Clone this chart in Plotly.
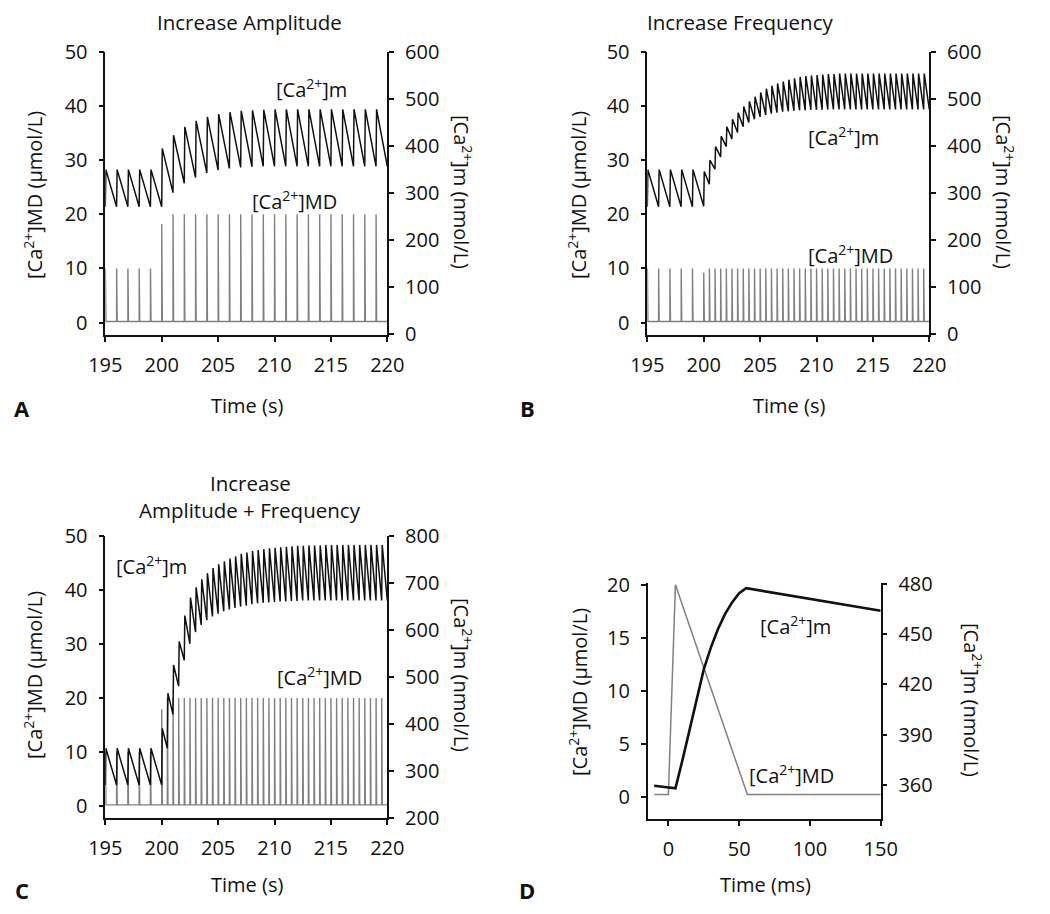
import plotly.graph_objects as go

# The page body has an 8 px margin, so the figure is drawn 8 px smaller and
# every reference pixel position is shifted by OFF.
OFF = 8
W, H = 1050 - OFF, 914 - OFF
FONT = "Open Sans"
BLACK = "#111111"
GRAY = "#808080"

# ---------------- data ----------------
# Panel A: increase amplitude (spikes every 1 s)
A_spike_t = [195, 196, 197, 198, 199, 200, 201, 202, 203, 204, 205, 206, 207, 208, 209,
             210, 211, 212, 213, 214, 215, 216, 217, 218, 219]
A_md_amp = [10, 10, 10, 10, 10, 18.2, 20, 20, 20, 20, 20, 20, 20, 20, 20,
            20, 20, 20, 20, 20, 20, 20, 20, 20, 20]
A_m_trough = [270, 270, 270, 270, 270, 270, 300, 320, 332, 342, 348, 351.5, 353.6, 355, 356,
              356, 356, 356, 356, 356, 356, 356, 356, 356, 356]
A_m_peak = [349, 349, 349, 349, 349, 394, 422, 440, 452.6, 461, 467, 471, 474, 475, 476,
            477, 477, 477, 477, 477, 477, 477, 477, 477, 477]
A_m_end = 356

# Panel B: increase frequency (spikes every 0.5 s after 200 s)
B_spike_t = [195, 196, 197, 198, 199,
             200, 200.5, 201, 201.5, 202, 202.5, 203, 203.5, 204, 204.5,
             205, 205.5, 206, 206.5, 207, 207.5, 208, 208.5, 209, 209.5,
             210, 210.5, 211, 211.5, 212, 212.5, 213, 213.5, 214, 214.5,
             215, 215.5, 216, 216.5, 217, 217.5, 218, 218.5, 219, 219.5]
B_md_amp = [10, 10, 10, 10, 10,
            9.2, 10, 10, 10, 10, 10, 10, 10, 10, 10,
            10, 10, 10, 10, 10, 10, 10, 10, 10, 10,
            10, 10, 10, 10, 10, 10, 10, 10, 10, 10,
            10, 10, 10, 10, 10, 10, 10, 10, 10, 10]
B_m_trough = [270, 270, 270, 270, 270,
              271, 318, 350, 376, 398, 414, 428, 440, 449, 456,
              461, 465, 468, 470, 472, 473, 474, 475, 475, 476,
              476, 476, 477, 477, 477, 477, 477, 477, 477, 477,
              477, 477, 477, 477, 477, 477, 477, 477, 477, 477]
B_m_peak = [349, 349, 349, 349, 349,
            345, 369, 398, 420, 440, 456, 470, 483, 494, 504,
            513, 521, 527, 532, 536, 540, 543, 546, 548, 549,
            550, 551, 552, 552, 553, 553, 553, 553, 553, 553,
            553, 553, 553, 553, 553, 553, 553, 553, 553, 553]
B_m_end = 477

# Panel C: increase amplitude + frequency
C_spike_t = list(B_spike_t)
C_md_amp = [10, 10, 10, 10, 10,
            17.9, 20, 20, 20, 20, 20, 20, 20, 20, 20,
            20, 20, 20, 20, 20, 20, 20, 20, 20, 20,
            20, 20, 20, 20, 20, 20, 20, 20, 20, 20,
            20, 20, 20, 20, 20, 20, 20, 20, 20, 20]
C_m_trough = [270, 270, 270, 270, 270,
              270, 348, 420, 480, 535, 570, 595, 610, 620, 628,
              634, 639, 643, 646, 649, 651, 654, 656, 657, 658,
              659, 660, 660, 661, 661, 662, 662, 662, 662, 662,
              662, 662, 662, 662, 662, 662, 662, 662, 662, 662]
C_m_peak = [348, 348, 348, 348, 348,
            390, 465, 525, 575, 630, 668, 690, 707, 720, 731,
            739, 745, 751, 756, 761, 764, 767, 769, 771, 773,
            774, 775, 776, 777, 778, 778, 779, 779, 779, 780,
            780, 780, 780, 780, 780, 780, 780, 780, 780, 780]
C_m_end = 662

MD_BASE = 0.2

# Panel D: single spike (ms)
D_md_t = [-10, 0, 5, 55.8, 150]
D_md = [0.2, 0.2, 20, 0.2, 0.2]
D_m_t = [-10, 5, 10, 15, 20, 25, 30, 35, 40, 45, 50, 55, 150]
D_m = [359.5, 358, 375, 393, 411, 429, 442, 453, 462, 469, 474.5, 477.5, 464]

# ---------------- helpers ----------------
def fx(px):
    return (px - OFF) / W

def fy(py):
    return 1 - (py - OFF) / H


def md_xy(ts, amps, t0, t1):
    xs, ys = [t0], [MD_BASE]
    for t, a in zip(ts, amps):
        xs += [t, t + 0.005, t + 0.055]
        ys += [MD_BASE, a, MD_BASE]
    xs.append(t1)
    ys.append(MD_BASE)
    return xs, ys


def m_xy(ts, troughs, peaks, t1, end):
    xs, ys = [], []
    for t, tr, pk in zip(ts, troughs, peaks):
        xs += [t, t + 0.05]
        ys += [tr, pk]
    xs.append(t1)
    ys.append(end)
    return xs, ys


fig = go.Figure()

panels = [
    ("A", "x", "y", "y2", A_spike_t, A_md_amp, A_m_trough, A_m_peak, A_m_end),
    ("B", "x2", "y3", "y4", B_spike_t, B_md_amp, B_m_trough, B_m_peak, B_m_end),
    ("C", "x3", "y5", "y6", C_spike_t, C_md_amp, C_m_trough, C_m_peak, C_m_end),
]
for name, xa, yl, yr, ts, amps, trs, pks, end in panels:
    mx, my = md_xy(ts, amps, 195, 220)
    fig.add_trace(go.Scatter(x=mx, y=my, mode="lines", xaxis=xa, yaxis=yl,
                             line=dict(color=GRAY, width=1.4), showlegend=False,
                             hoverinfo="skip"))
    cx, cy = m_xy(ts, trs, pks, 220, end)
    fig.add_trace(go.Scatter(x=cx, y=cy, mode="lines", xaxis=xa, yaxis=yr,
                             line=dict(color=BLACK, width=1.5), showlegend=False,
                             hoverinfo="skip"))

fig.add_trace(go.Scatter(x=D_md_t, y=D_md, mode="lines", xaxis="x4", yaxis="y7",
                         line=dict(color=GRAY, width=1.5), showlegend=False))
fig.add_trace(go.Scatter(x=D_m_t, y=D_m, mode="lines", xaxis="x4", yaxis="y8",
                         line=dict(color=BLACK, width=2.6), showlegend=False))

tickfont = dict(family=FONT, size=20, color=BLACK)
common = dict(showline=True, linecolor=BLACK, linewidth=1.5, ticks="outside",
              ticklen=5, tickwidth=1.5, tickcolor=BLACK, showgrid=False,
              zeroline=False, tickfont=tickfont, automargin=False)

# pixel geometry (reference pixels)
AB_top, AB_bot = 51.5, 335
C_top, C_bot = 535.5, 818
D_top, D_bot = 583.3, 819

XT = 6   # x tick label standoff
YT = 7   # y tick label standoff

layout = dict(
    width=W, height=H, plot_bgcolor="white", paper_bgcolor="white",
    margin=dict(l=0, r=0, t=0, b=0, pad=0), showlegend=False,
    font=dict(family=FONT, color=BLACK),
    xaxis=dict(domain=[fx(105.3), fx(387.3)], anchor="y", range=[195, 220],
               tickvals=[195, 200, 205, 210, 215, 220], ticklabelstandoff=XT, **common),
    yaxis=dict(domain=[fy(AB_bot), fy(AB_top)], anchor="x", range=[-2.3, 50.1],
               tickvals=[0, 10, 20, 30, 40, 50], ticklabelstandoff=YT, **common),
    yaxis2=dict(overlaying="y", anchor="x", side="right", range=[-2.5, 600],
                tickvals=[0, 100, 200, 300, 400, 500, 600], ticklabelstandoff=YT, **common),
    xaxis2=dict(domain=[fx(647.3), fx(929.3)], anchor="y3", range=[195, 220],
                tickvals=[195, 200, 205, 210, 215, 220], ticklabelstandoff=XT, **common),
    yaxis3=dict(domain=[fy(AB_bot), fy(AB_top)], anchor="x2", range=[-2.3, 50.1],
                tickvals=[0, 10, 20, 30, 40, 50], ticklabelstandoff=YT, **common),
    yaxis4=dict(overlaying="y3", anchor="x2", side="right", range=[-2.5, 600],
                tickvals=[0, 100, 200, 300, 400, 500, 600], ticklabelstandoff=YT, **common),
    xaxis3=dict(domain=[fx(105.3), fx(387.3)], anchor="y5", range=[195, 220],
                tickvals=[195, 200, 205, 210, 215, 220], ticklabelstandoff=XT, **common),
    yaxis5=dict(domain=[fy(C_bot), fy(C_top)], anchor="x3", range=[-2.22, 50.04],
                tickvals=[0, 10, 20, 30, 40, 50], ticklabelstandoff=YT, **common),
    yaxis6=dict(overlaying="y5", anchor="x3", side="right", range=[200, 800],
                tickvals=[200, 300, 400, 500, 600, 700, 800], ticklabelstandoff=YT, **common),
    xaxis4=dict(domain=[fx(647.7), fx(880.7)], anchor="y7", range=[-14.6, 150],
                tickvals=[0, 50, 100, 150], ticklabelstandoff=XT, **common),
    yaxis7=dict(domain=[fy(D_bot), fy(D_top)], anchor="x4", range=[-2.1, 20.13],
                tickvals=[0, 5, 10, 15, 20], ticklabelstandoff=YT, **common),
    yaxis8=dict(overlaying="y7", anchor="x4", side="right", range=[339.7, 480.4],
                tickvals=[360, 390, 420, 450, 480], ticklabelstandoff=YT, **common),
)
fig.update_layout(**layout)

annots = []


def txt(x, y, text, size=20, angle=0):
    annots.append(dict(x=fx(x), y=fy(y), xref="paper", yref="paper", text=text,
                       showarrow=False, textangle=angle, xanchor="center", yanchor="middle",
                       font=dict(family=FONT, size=size, color=BLACK)))


CAM = "[Ca<sup>2+</sup>]m"
CAMD = "[Ca<sup>2+</sup>]MD"
LEFT_T = "[Ca<sup>2+</sup>]MD (μmol/L)"
RIGHT_T = "[Ca<sup>2+</sup>]m (nmol/L)"

# titles
txt(249, 22, "Increase Amplitude", size=20.5)
txt(740, 22, "Increase Frequency", size=20.5)
txt(250, 483, "Increase", size=20.5)
txt(250, 510, "Amplitude + Frequency", size=20.5)
# x titles
txt(247, 405, "Time (s)")
txt(789, 405, "Time (s)")
txt(247, 884, "Time (s)")
txt(765, 884, "Time (ms)")
# panel letters
txt(22, 408, "<b>A</b>", size=22)
txt(527, 408, "<b>B</b>", size=22)
txt(22, 890, "<b>C</b>", size=22)
txt(527, 890, "<b>D</b>", size=22)
# y titles
txt(33, 195, LEFT_T, angle=-90)
txt(577, 195, LEFT_T, angle=-90)
txt(33, 675, LEFT_T, angle=-90)
txt(578, 692, LEFT_T, angle=-90)
txt(463, 192, RIGHT_T, angle=90)
txt(1005, 192, RIGHT_T, angle=90)
txt(463, 675, RIGHT_T, angle=90)
txt(973, 700, RIGHT_T, angle=90)
# in-plot labels
txt(311, 88, CAM)
txt(294, 201, CAMD)
txt(843, 137, CAM)
txt(850, 254, CAMD)
txt(151, 565, CAM)
txt(319, 676, CAMD)
txt(795, 625, CAM)
txt(791, 774, CAMD)

fig.update_layout(annotations=annots)
fig.write_html("out.html")
